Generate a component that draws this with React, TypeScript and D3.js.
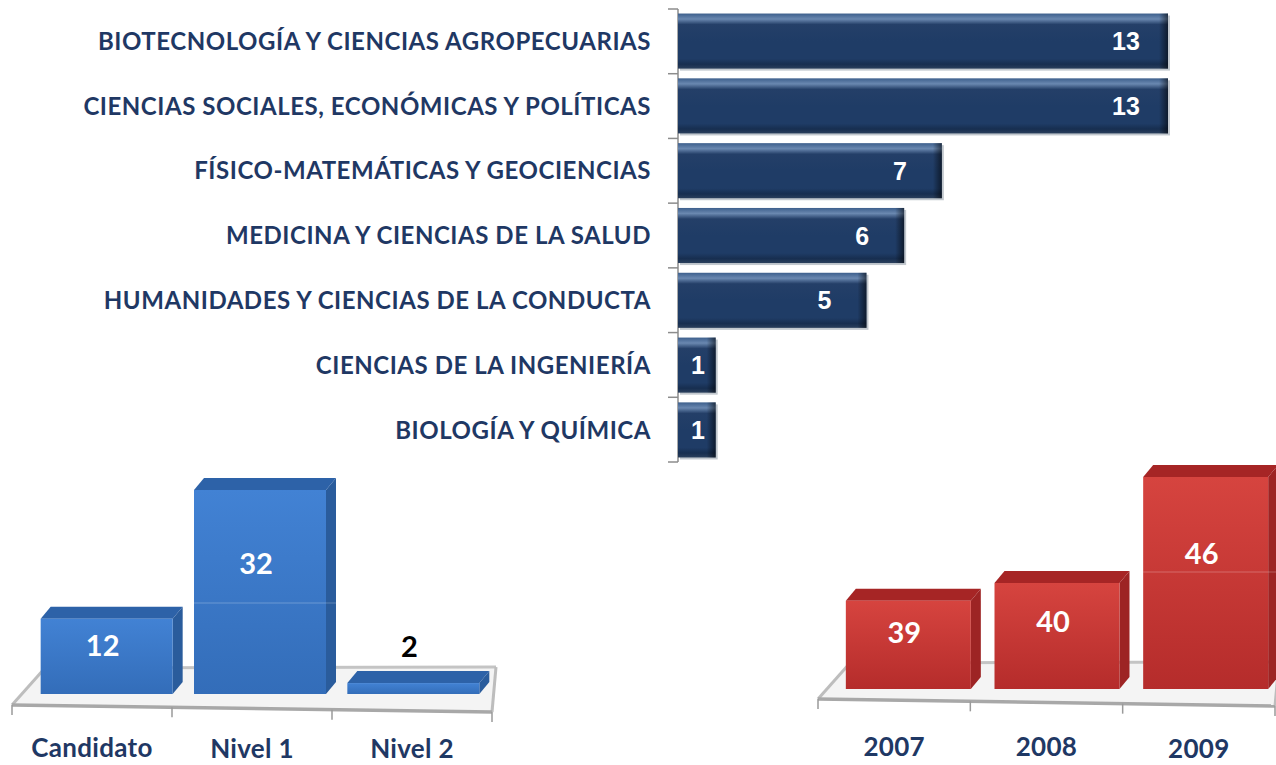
import React from "react";
import * as d3 from "d3";

const areas = [
  "BIOTECNOLOGÍA Y CIENCIAS AGROPECUARIAS",
  "CIENCIAS SOCIALES, ECONÓMICAS Y POLÍTICAS",
  "FÍSICO-MATEMÁTICAS Y GEOCIENCIAS",
  "MEDICINA Y CIENCIAS DE LA SALUD",
  "HUMANIDADES Y CIENCIAS DE LA CONDUCTA",
  "CIENCIAS DE LA INGENIERÍA",
  "BIOLOGÍA Y QUÍMICA",
];
const areaValues = [13, 13, 7, 6, 5, 1, 1];

const levels = ["Candidato", "Nivel 1", "Nivel 2"];
const levelValues = [12, 32, 2];

const years = ["2007", "2008", "2009"];
const yearValues = [39, 40, 46];

const NAVY = "#1f3864";
const W = 1276;
const H = 765;

function TopChart() {
  const x = d3.scaleLinear().domain([0, 13]).range([678, 1168]);
  const y = d3
    .scaleBand<string>()
    .domain(areas)
    .range([9, 462])
    .paddingInner(0.15)
    .paddingOuter(0.07);
  const ticks = d3.range(areas.length + 1).map((i) => 9 + i * ((462 - 9) / areas.length));
  return (
    <g>
      <defs>
        <linearGradient id="navyV" x1="0" y1="0" x2="0" y2="1">
          <stop offset="0" stopColor="#3d5f8c" />
          <stop offset="0.1" stopColor="#6a88b0" />
          <stop offset="0.2" stopColor="#243f68" />
          <stop offset="0.5" stopColor="#1f3c66" />
          <stop offset="0.82" stopColor="#1f3c66" />
          <stop offset="0.92" stopColor="#172e50" />
          <stop offset="1" stopColor="#2a3f5c" />
        </linearGradient>
        <linearGradient id="navyH" x1="0" y1="0" x2="1" y2="0">
          <stop offset="0" stopColor="#000" stopOpacity="0" />
          <stop offset="1" stopColor="#000" stopOpacity="0.55" />
        </linearGradient>
      </defs>
      <line x1={678} x2={678} y1={ticks[0]} y2={ticks[ticks.length - 1]} stroke="#8c8c8c" strokeWidth={1.5} />
      {ticks.map((t, i) => (
        <line key={i} x1={668} x2={678} y1={t} y2={t} stroke="#8c8c8c" strokeWidth={1.5} />
      ))}
      {areas.map((a, i) => {
        const v = areaValues[i];
        const y0 = y(a) as number;
        const bw = y.bandwidth();
        const x1 = x(v);
        const w = x1 - x(0);
        const labelX = w > 80 ? x1 - 42 : x(0) + w / 2 + 1;
        return (
          <g key={a}>
            <rect x={x(0) + 2} y={y0 + 2} width={w} height={bw} fill="#9aa3ad" opacity={0.6} />
            <rect x={x(0)} y={y0} width={w} height={bw} fill="url(#navyV)" />
            <rect x={x1 - 9} y={y0} width={9} height={bw} fill="url(#navyH)" />
            <text
              x={651}
              y={y0 + bw / 2}
              dy="0.36em"
              textAnchor="end"
              fontFamily="Lato, 'Open Sans', sans-serif"
              fontWeight={700}
              fontSize={24}
              letterSpacing={0.55}
              fill={NAVY}
            >
              {a}
            </text>
            <text
              x={labelX}
              y={y0 + bw / 2}
              dy="0.36em"
              textAnchor="middle"
              fontFamily="'Liberation Sans', Arial, sans-serif"
              fontWeight={700}
              fontSize={25}
              fill="#fff"
            >
              {v}
            </text>
          </g>
        );
      })}
    </g>
  );
}

type Bar3DProps = {
  cats: string[];
  vals: number[];
  yDomain: [number, number];
  yRange: [number, number];
  floorX: [number, number];
  barX: [number, number];
  barW: number;
  floor: { fl: number; fr: number; bl: number; br: number; blx: number };
  colors: { front0: string; front1: string; top: string; side: string };
  id: string;
  labelY: number[];
  gridY: number;
};

function Bar3D(p: Bar3DProps) {
  const dx = 10;
  const dy = -12;
  const y = d3.scaleLinear().domain(p.yDomain).range(p.yRange);
  const xb = d3.scaleBand<string>().domain(p.cats).range(p.floorX);
  const xc = d3.scalePoint<string>().domain(p.cats).range(p.barX).padding(0.5);
  const [fx0, fx1] = p.floorX;
  const { fl, fr, bl, br, blx } = p.floor;
  const frontY = (xx: number) => fl + ((xx - fx0) / (fx1 - fx0)) * (fr - fl);
  const bounds = [...p.cats.map((c) => xb(c) as number), fx1];
  return (
    <g>
      <defs>
        <linearGradient id={p.id + "F"} x1="0" y1="0" x2="0" y2="1">
          <stop offset="0" stopColor={p.colors.front0} />
          <stop offset="1" stopColor={p.colors.front1} />
        </linearGradient>
      </defs>
      <path
        d={`M${fx0},${fl} L${blx},${bl} L${fx1 + 4},${br} L${fx1},${fr} Z`}
        fill="#f4f4f4"
        stroke="none"
      />
      <line x1={blx} y1={bl} x2={fx1 + 4} y2={br} stroke="#c4c4c4" strokeWidth={3} />
      <line x1={fx0} y1={fl} x2={blx} y2={bl} stroke="#bdbdbd" strokeWidth={3} />
      <line x1={fx1} y1={fr} x2={fx1 + 4} y2={br} stroke="#bdbdbd" strokeWidth={3} />
      <line x1={fx0} y1={fl} x2={fx1} y2={fr} stroke="#a8a8a8" strokeWidth={3.5} />
      {bounds.map((b, i) => (
        <line key={i} x1={b} x2={b} y1={frontY(b)} y2={frontY(b) + 10} stroke="#9a9a9a" strokeWidth={1.5} />
      ))}
      {p.cats.map((c, i) => {
        const v = p.vals[i];
        const cx = xc(c) as number;
        const x0 = cx - p.barW / 2;
        const x1 = x0 + p.barW;
        const yb = y(p.yDomain[0]);
        const yt = y(v);
        const h = yb - yt;
        const inside = h > 40;
        const ly = inside ? yt + h * 0.36 : yt + dy - 24;
        return (
          <g key={c}>
            <path
              d={`M${x1},${yb} L${x1 + dx},${yb + dy} L${x1 + dx},${yt + dy} L${x1},${yt} Z`}
              fill={p.colors.side}
            />
            <path
              d={`M${x0},${yt} L${x0 + dx},${yt + dy} L${x1 + dx},${yt + dy} L${x1},${yt} Z`}
              fill={p.colors.top}
            />
            <rect x={x0} y={yt} width={p.barW} height={h} fill={`url(#${p.id}F)`} />
            {p.gridY < yb && p.gridY > yt && (
              <line x1={x0} x2={x1 + dx} y1={p.gridY} y2={p.gridY} stroke="#fff" strokeOpacity={0.25} strokeWidth={1} />
            )}
            <text
              x={cx - 4}
              y={ly}
              dy="0.36em"
              textAnchor="middle"
              fontFamily="Lato, 'Open Sans', sans-serif"
              fontWeight={700}
              fontSize={29}
              fill={inside ? "#fff" : "#000"}
            >
              {v}
            </text>
          </g>
        );
      })}
      {p.cats.map((c, i) => (
        <text
          key={c}
          x={(xb(c) as number) + xb.bandwidth() / 2}
          y={p.labelY[i]}
          textAnchor="middle"
          fontFamily="Lato, 'Open Sans', sans-serif"
          fontWeight={700}
          fontSize={26}
          letterSpacing={0.3}
          fill={NAVY}
        >
          {c}
        </text>
      ))}
    </g>
  );
}

export default function App() {
  return (
    <svg
      width={W}
      height={H}
      viewBox={`0 0 ${W} ${H}`}
      style={{ position: "absolute", left: 0, top: 0, background: "#fff" }}
    >
      <rect width={W} height={H} fill="#fff" />
      <TopChart />
      <Bar3D
        id="blue"
        cats={levels}
        vals={levelValues}
        yDomain={[0.3, 32]}
        yRange={[694, 490]}
        floorX={[12, 492]}
        barX={[30, 490]}
        barW={132}
        floor={{ fl: 705, fr: 712, bl: 668, br: 667, blx: 45 }}
        colors={{ front0: "#4282d4", front1: "#336db9", top: "#2d62a8", side: "#2a5c9c" }}
        labelY={[757, 758, 758]}
        gridY={603}
      />
      <Bar3D
        id="red"
        cats={years}
        vals={yearValues}
        yDomain={[34, 46]}
        yRange={[689, 477]}
        floorX={[818, 1275]}
        barX={[834, 1280]}
        barW={125}
        floor={{ fl: 699, fr: 706, bl: 663, br: 662, blx: 850 }}
        colors={{ front0: "#d6443f", front1: "#b52c2b", top: "#a62525", side: "#9d2424" }}
        labelY={[756, 756, 758]}
        gridY={572}
      />
    </svg>
  );
}
